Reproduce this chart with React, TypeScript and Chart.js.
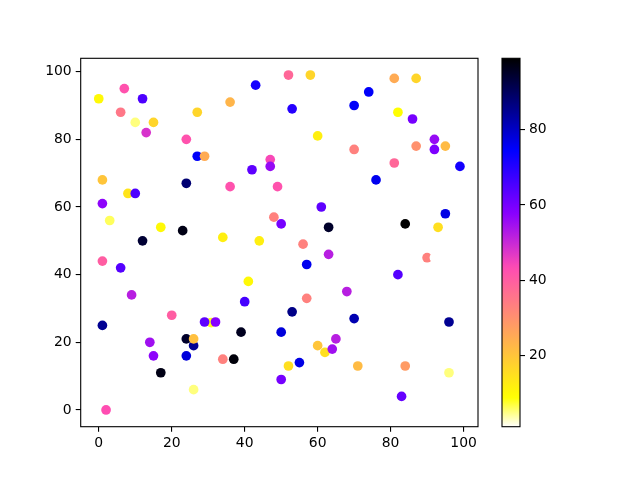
import React, { useEffect, useRef } from "react";
import { Chart, registerables } from "chart.js";

Chart.register(...registerables);

const xs = [7, 0, 12, 6, 27, 10, 15, 13, 24, 27, 29, 1, 24, 8, 10, 1, 3, 17, 23, 12, 34, 52, 58, 43, 36, 53, 70, 60, 70, 47, 47, 42, 36, 49, 61, 48, 50, 63, 44, 56, 81, 87, 74, 82, 86, 87, 92, 92, 95, 81, 99, 76, 95, 84, 93, 1, 6, 9, 20, 30.8, 29, 32, 1, 14, 24, 26, 26, 15, 24, 17, 26, 2, 34, 63, 57, 41, 68, 40, 57, 53, 70, 39, 50, 60, 62, 64, 65, 37, 52, 55, 50, 71, 90, 92, 82, 96, 84, 96, 83];
const ys = [95, 92, 92, 88, 88, 85, 85, 82, 80, 75, 75, 68, 67, 64, 64, 61, 56, 54, 53, 50, 51, 99, 99, 96, 91, 89, 90, 81, 77, 74, 72, 71, 66, 66, 60, 57, 55, 54, 50, 49, 98, 98, 94, 88, 86, 78, 80, 77, 78, 73, 72, 68, 58, 55, 54, 44, 42, 34, 28, 25.8, 26, 26, 25, 20, 21, 19, 21, 16, 16, 11, 6, 0, 15, 46, 43, 38, 35, 32, 33, 29, 27, 23, 23, 19, 17, 18, 21, 15, 13, 14, 9, 13, 45, 45, 40, 26, 13, 11, 4];
const cs = [42, 10, 65, 35, 17, 5, 17, 48, 42, 75, 25, 20, 88, 14, 65, 57, 6, 10, 97, 94, 12, 38, 17, 72, 23, 70, 75, 12, 33, 44, 56, 63, 42, 42, 63, 33, 60, 95, 12, 33, 25, 17, 75, 9, 60, 30, 56, 59, 22, 38, 72, 76, 77, 99, 15, 40, 64, 52, 40, 8, 63, 58, 85, 55, 95, 85, 21, 57, 78, 97, 5, 43, 33, 52, 76, 10, 52, 66, 33, 86, 82, 96, 78, 20, 15, 55, 52, 98, 15, 77, 60, 22, 33, 1, 64, 85, 28, 5, 62];

const xTicks = [0, 20, 40, 60, 80, 100];
const yTicks = [0, 20, 40, 60, 80, 100];
const cbTicks = [20, 40, 60, 80];

const clamp = (v: number) => Math.max(0, Math.min(1, v));
function gnuplot2(t: number): [number, number, number] {
  const r = clamp(t / 0.32 - 0.78125);
  const g = clamp(2 * t - 0.84);
  let b: number;
  if (t < 0.25) b = 4 * t;
  else if (t < 0.42) b = 1;
  else if (t < 0.92) b = -2 * t + 1.84;
  else b = t / 0.08 - 11.5;
  b = clamp(b);
  return [Math.round(r * 255), Math.round(g * 255), Math.round(b * 255)];
}
const vmin = Math.min(...cs);
const vmax = Math.max(...cs);
function cmapR(v: number): string {
  const t = 1 - (v - vmin) / (vmax - vmin);
  const [r, g, b] = gnuplot2(t);
  return `rgb(${r},${g},${b})`;
}

function margins(arr: number[]) {
  const mn = Math.min(...arr);
  const mx = Math.max(...arr);
  const d = (mx - mn) * 0.05;
  return [mn - d, mx + d];
}

const FONT = { family: "DejaVu Sans", size: 13.9 };

const framePlugin = {
  id: "frame",
  afterDraw(chart: any) {
    const { ctx, chartArea } = chart;
    ctx.save();
    ctx.strokeStyle = "#000";
    ctx.lineWidth = 1.1;
    ctx.strokeRect(chartArea.left, chartArea.top, chartArea.right - chartArea.left, chartArea.bottom - chartArea.top);
    ctx.restore();
  },
};

const gradientPlugin = {
  id: "cbgrad",
  beforeDatasetsDraw(chart: any) {
    const { ctx, chartArea } = chart;
    const ys = chart.scales.y;
    const p0 = ys.getPixelForValue(vmin);
    const p1 = ys.getPixelForValue(vmax);
    const grad = ctx.createLinearGradient(0, p0, 0, p1);
    const n = 64;
    for (let i = 0; i <= n; i++) {
      const v = vmin + ((vmax - vmin) * i) / n;
      grad.addColorStop(i / n, cmapR(v));
    }
    ctx.save();
    ctx.fillStyle = grad;
    ctx.fillRect(chartArea.left, chartArea.top, chartArea.right - chartArea.left, chartArea.bottom - chartArea.top);
    ctx.restore();
  },
};

export default function App() {
  const mainRef = useRef<HTMLCanvasElement>(null);
  const cbRef = useRef<HTMLCanvasElement>(null);

  useEffect(() => {
    const [xmin, xmax] = margins(xs);
    const [ymin, ymax] = margins(ys);
    const pts = xs.map((x, i) => ({ x, y: ys[i] }));
    const main = new Chart(mainRef.current!, {
      type: "scatter",
      data: {
        datasets: [
          {
            data: pts,
            pointRadius: 4.85,
            pointHoverRadius: 4.85,
            borderWidth: 0,
            pointBackgroundColor: cs.map(cmapR),
            pointBorderColor: cs.map(cmapR),
          },
        ],
      },
      options: {
        animation: false,
        responsive: false,
        events: [],
        layout: { padding: { left: 0, top: 58.3, right: 162, bottom: 0 } },
        plugins: { legend: { display: false }, tooltip: { enabled: false } },
        scales: {
          x: {
            type: "linear",
            min: xmin,
            max: xmax,
            afterFit: (s: any) => { s.height = 53.3; },
            afterBuildTicks: (s: any) => { s.ticks = xTicks.map((v) => ({ value: v })); },
            ticks: { font: FONT, color: "#000", padding: 3, maxRotation: 0, callback: (v: any) => String(v) },
            grid: { drawOnChartArea: false, drawTicks: true, tickLength: 5, color: "#000", lineWidth: 1.1 },
            border: { display: false },
          },
          y: {
            type: "linear",
            min: ymin,
            max: ymax,
            afterFit: (s: any) => { s.width = 80.7; },
            afterBuildTicks: (s: any) => { s.ticks = yTicks.map((v) => ({ value: v })); },
            ticks: { font: FONT, color: "#000", padding: 4, callback: (v: any) => String(v) },
            grid: { drawOnChartArea: false, drawTicks: true, tickLength: 5, color: "#000", lineWidth: 1.1 },
            border: { display: false },
          },
        },
      },
      plugins: [framePlugin],
    });

    const cb = new Chart(cbRef.current!, {
      type: "scatter",
      data: { datasets: [{ data: [] }] },
      options: {
        animation: false,
        responsive: false,
        events: [],
        layout: { padding: { left: 502, top: 58.3, right: 0, bottom: 53.3 } },
        plugins: { legend: { display: false }, tooltip: { enabled: false } },
        scales: {
          x: { type: "linear", display: false, min: 0, max: 1 },
          y: {
            type: "linear",
            position: "right",
            min: vmin,
            max: vmax,
            afterFit: (s: any) => { s.width = 120; },
            afterBuildTicks: (s: any) => { s.ticks = cbTicks.map((v) => ({ value: v })); },
            ticks: { font: FONT, color: "#000", padding: 4, callback: (v: any) => String(v) },
            grid: { drawOnChartArea: false, drawTicks: true, tickLength: 5, color: "#000", lineWidth: 1.1 },
            border: { display: false },
          },
        },
      },
      plugins: [gradientPlugin, framePlugin],
    });

    return () => {
      main.destroy();
      cb.destroy();
    };
  }, []);

  return (
    <div style={{ position: "absolute", left: 0, top: 0, width: 640, height: 480, background: "#fff" }}>
      <canvas ref={mainRef} width={640} height={480} style={{ position: "absolute", left: 0, top: 0, width: 640, height: 480 }} />
      <canvas ref={cbRef} width={640} height={480} style={{ position: "absolute", left: 0, top: 0, width: 640, height: 480 }} />
    </div>
  );
}
